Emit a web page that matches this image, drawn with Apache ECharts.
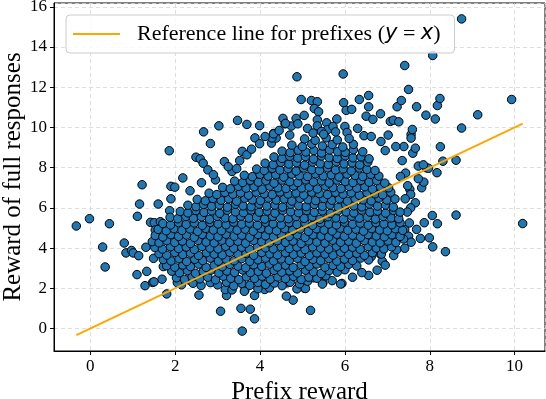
<!DOCTYPE html>
<html>
<head>
<meta charset="utf-8">
<script src="https://cdn.jsdelivr.net/npm/echarts@6/dist/echarts.min.js"></script>
<style>
  html, body { margin: 0; padding: 0; background: #fff; }
  #chart { width: 546px; height: 399px; }
</style>
</head>
<body>
<div id="chart"></div>
<script>
// ---- data ----
// x range of the prefix rewards, used for the y = x reference line
const refLineX = [-0.33, 10.19];

// scattered points around the edge of the cloud
const outerPoints = [
  [-0.33,5.10],[-0.02,5.46],[0.45,5.21],[0.29,4.05],[0.35,3.06],[0.80,4.25],[0.84,3.76],[0.97,3.88],
  [1.01,3.76],[1.14,3.62],[1.11,5.58],[1.16,6.19],[1.22,7.15],[1.10,2.68],[1.29,2.13],[1.31,4.04],
  [1.33,2.84],[1.47,2.29],[1.69,2.45],[1.80,1.72],[1.86,8.84],[1.90,7.07],[1.99,7.03],[1.90,6.45],
  [1.87,5.86],[1.60,6.19],[1.42,5.28],[1.51,5.26],[1.65,5.31],[1.53,4.90],[1.50,2.32],[1.49,3.49],
  [2.18,7.49],[2.49,8.52],[2.59,8.44],[2.66,8.22],[2.67,9.78],[2.83,9.20],[3.03,10.08],[2.77,7.89],
  [2.95,7.39],[3.16,8.30],[3.34,7.81],[3.47,10.35],[3.69,10.15],[3.99,10.09],[3.58,8.81],[3.69,8.64],
  [3.88,9.48],[3.99,9.19],[4.27,9.22],[4.32,9.70],[4.38,9.47],[4.54,10.45],[4.59,10.18],[4.74,10.07],
  [4.87,12.52],[4.85,10.45],[4.89,10.18],[4.97,11.39],[5.04,10.60],[5.21,11.34],[5.35,11.28],[5.28,10.94],
  [5.38,10.78],[5.35,10.38],[5.35,10.08],[5.57,10.23],[5.59,9.89],[5.81,10.42],[5.96,12.66],[5.97,11.23],
  [6.03,10.85],[6.16,10.90],[6.00,10.05],[6.34,11.39],[6.45,9.59],[6.56,11.59],[6.56,11.03],[6.50,10.56],
  [6.66,10.40],[6.84,10.68],[7.07,10.30],[7.14,10.36],[7.23,11.03],[7.27,10.28],[7.33,11.34],[7.41,13.08],
  [7.50,11.89],[7.56,9.65],[7.59,9.90],[7.69,11.03],[7.91,10.61],[8.07,13.58],[8.13,10.42],[8.18,11.09],
  [8.24,11.44],[8.75,15.40],[8.75,9.97],[8.25,9.04],[8.17,7.75],[8.31,8.32],[8.62,8.37],[7.92,7.99],
  [7.73,8.08],[9.13,10.63],[9.93,11.39],[10.19,5.22],[8.62,5.64],[8.06,5.62],[8.18,5.21],[7.87,5.26],
  [7.69,4.93],[7.78,4.48],[7.99,4.51],[8.07,4.06],[8.37,3.82],[7.41,4.92],[7.50,4.59],[7.56,4.29],
  [7.41,3.99],[7.66,6.25],[7.55,6.00],[7.47,5.79],[7.53,6.92],[7.55,6.67],[7.81,7.00],[7.86,7.28],
  [7.73,7.45],[7.60,8.72],[7.66,8.97],[7.39,9.05],[7.56,9.47],[7.43,7.73],[7.31,7.56],[7.97,7.97],
  [7.85,8.14],[7.22,5.34],[7.12,4.93],[7.15,3.63],[6.88,3.35],[6.76,2.90],[6.56,2.64],[6.62,3.57],
  [6.82,3.73],[5.93,2.24],[5.48,2.27],[5.26,2.52],[5.19,0.90],[5.05,2.00],[5.90,2.21],[4.87,1.97],
  [4.78,1.41],[4.62,1.61],[4.64,2.27],[4.11,1.94],[3.87,1.64],[3.87,0.48],[3.77,0.96],[3.55,1.00],
  [3.58,-0.13],[3.07,0.86],[3.21,1.64],[3.18,1.94],[3.64,1.89],[2.56,1.66],[2.15,2.17],[2.33,2.41],
  [4.28,9.48],[4.32,9.68],[4.60,10.20],[5.07,1.99],[5.47,2.21],
  [3.25,8.05],[3.52,8.35],[3.80,8.92],[4.12,9.55],[4.45,9.85],[4.70,9.62],[5.12,9.95],[5.45,9.80],
  [5.72,10.05],[6.05,9.75],[6.30,9.95],[6.62,9.55],[6.85,9.30],[7.02,9.62],[7.20,9.05],[6.95,8.85],
  [2.35,6.85],[2.62,7.25],[2.90,7.65],[3.45,7.95],[7.35,8.35],[7.48,7.10],[7.42,6.45],[7.52,5.25],
  [7.38,4.45],[7.22,3.92],[6.95,3.15],[6.40,2.78],[6.18,2.55],[5.70,2.38],[2.05,2.28],[1.72,3.08]
];

// the dense body of the cloud, row by row from the bottom
const corePoints = [
  [3.34,1.92],[3.63,1.85],[3.95,1.98],[4.22,2.02],
  [2.42,2.25],[2.61,2.14],[2.83,2.28],[3.00,2.17],[3.21,2.30],[3.38,2.12],[3.57,2.24],[3.76,2.15],[3.95,2.29],[4.13,2.19],[4.34,2.26],[4.52,2.13],[4.71,2.30],[4.93,2.22],[5.12,2.35],
  [2.03,2.52],[2.22,2.44],[2.40,2.58],[2.58,2.47],[2.77,2.55],[2.95,2.42],[3.13,2.60],[3.31,2.50],[3.50,2.43],[3.68,2.57],[3.87,2.49],[4.05,2.60],[4.24,2.45],[4.42,2.56],[4.60,2.48],[4.79,2.59],[4.97,2.44],[5.15,2.55],[5.34,2.50],[5.55,2.62],
  [1.92,2.85],[2.10,2.77],[2.29,2.88],[2.48,2.74],[2.66,2.83],[2.84,2.90],[3.03,2.76],[3.22,2.86],[3.40,2.79],[3.59,2.91],[3.77,2.78],[3.96,2.84],[4.15,2.75],[4.33,2.89],[4.51,2.80],[4.70,2.87],[4.88,2.76],[5.07,2.90],[5.26,2.82],[5.44,2.74],[5.63,2.88],[5.82,2.80],[6.00,2.92],
  [1.80,3.12],[1.99,3.05],[2.18,3.16],[2.36,3.08],[2.55,3.20],[2.73,3.04],[2.92,3.14],[3.11,3.07],[3.29,3.19],[3.48,3.10],[3.66,3.02],[3.85,3.17],[4.04,3.09],[4.22,3.20],[4.41,3.06],[4.60,3.15],[4.78,3.03],[4.97,3.18],[5.16,3.10],[5.34,3.21],[5.53,3.05],[5.72,3.14],[5.90,3.08],[6.09,3.19],[6.28,3.11],
  [1.72,3.43],[1.90,3.36],[2.09,3.47],[2.27,3.33],[2.46,3.44],[2.65,3.38],[2.83,3.50],[3.02,3.35],[3.20,3.45],[3.39,3.37],[3.57,3.48],[3.76,3.34],[3.95,3.42],[4.13,3.50],[4.32,3.36],[4.50,3.46],[4.69,3.39],[4.88,3.49],[5.06,3.33],[5.25,3.44],[5.43,3.37],[5.62,3.48],[5.81,3.35],[5.99,3.45],[6.18,3.38],[6.37,3.50],[6.56,3.41],
  [1.62,3.72],[1.80,3.65],[1.99,3.78],[2.18,3.68],[2.36,3.75],[2.55,3.63],[2.74,3.77],[2.92,3.70],[3.11,3.66],[3.29,3.79],[3.48,3.69],[3.67,3.74],[3.85,3.64],[4.04,3.78],[4.23,3.71],[4.41,3.66],[4.60,3.77],[4.79,3.68],[4.97,3.75],[5.16,3.63],[5.34,3.76],[5.53,3.70],[5.72,3.65],[5.90,3.79],[6.09,3.69],[6.28,3.74],[6.46,3.64],[6.65,3.77],[6.86,3.70],
  [1.52,4.03],[1.70,3.95],[1.89,4.07],[2.08,3.98],[2.26,4.05],[2.45,3.93],[2.63,4.08],[2.82,4.00],[3.01,3.96],[3.19,4.09],[3.38,3.99],[3.57,4.04],[3.75,3.94],[3.94,4.08],[4.13,4.01],[4.31,3.96],[4.50,4.07],[4.69,3.98],[4.87,4.05],[5.06,3.93],[5.24,4.06],[5.43,4.00],[5.62,3.95],[5.80,4.09],[5.99,3.99],[6.18,4.04],[6.36,3.94],[6.55,4.07],[6.74,4.00],[6.92,3.96],[7.10,4.06],
  [1.46,4.32],[1.62,4.26],[1.80,4.37],[1.99,4.28],[2.17,4.35],[2.36,4.23],[2.54,4.38],[2.73,4.30],[2.92,4.26],[3.10,4.39],[3.29,4.29],[3.48,4.34],[3.66,4.24],[3.85,4.38],[4.04,4.31],[4.22,4.26],[4.41,4.37],[4.60,4.28],[4.78,4.35],[4.97,4.23],[5.15,4.36],[5.34,4.30],[5.53,4.25],[5.71,4.39],[5.90,4.29],[6.09,4.34],[6.27,4.24],[6.46,4.37],[6.65,4.30],[6.83,4.26],[7.02,4.36],[7.20,4.28],
  [1.53,4.62],[1.71,4.55],[1.90,4.67],[2.08,4.58],[2.27,4.65],[2.45,4.53],[2.64,4.68],[2.83,4.60],[3.01,4.56],[3.20,4.69],[3.39,4.59],[3.57,4.64],[3.76,4.54],[3.95,4.68],[4.13,4.61],[4.32,4.56],[4.50,4.67],[4.69,4.58],[4.88,4.65],[5.06,4.53],[5.25,4.66],[5.44,4.60],[5.62,4.55],[5.81,4.69],[5.99,4.59],[6.18,4.64],[6.37,4.54],[6.55,4.67],[6.74,4.60],[6.93,4.56],[7.11,4.66],[7.30,4.58],
  [1.60,4.93],[1.79,4.86],[1.97,4.97],[2.16,4.88],[2.35,4.95],[2.53,4.83],[2.72,4.98],[2.90,4.90],[3.09,4.86],[3.28,4.99],[3.46,4.89],[3.65,4.94],[3.84,4.84],[4.02,4.98],[4.21,4.91],[4.39,4.86],[4.58,4.97],[4.77,4.88],[4.95,4.95],[5.14,4.83],[5.33,4.96],[5.51,4.90],[5.70,4.85],[5.89,4.99],[6.07,4.89],[6.26,4.94],[6.44,4.84],[6.63,4.97],[6.82,4.90],[7.00,4.86],[7.19,4.96],[7.36,4.88],
  [1.71,5.22],[1.89,5.15],[2.08,5.27],[2.26,5.18],[2.45,5.25],[2.64,5.13],[2.82,5.28],[3.01,5.20],[3.20,5.16],[3.38,5.29],[3.57,5.19],[3.75,5.24],[3.94,5.14],[4.13,5.28],[4.31,5.21],[4.50,5.16],[4.69,5.27],[4.87,5.18],[5.06,5.25],[5.24,5.13],[5.43,5.26],[5.62,5.20],[5.80,5.15],[5.99,5.29],[6.18,5.19],[6.36,5.24],[6.55,5.14],[6.73,5.27],[6.92,5.20],[7.11,5.16],[7.30,5.26],
  [1.88,5.53],[2.06,5.46],[2.25,5.57],[2.43,5.48],[2.62,5.55],[2.81,5.43],[2.99,5.58],[3.18,5.50],[3.36,5.46],[3.55,5.59],[3.74,5.49],[3.92,5.54],[4.11,5.44],[4.30,5.58],[4.48,5.51],[4.67,5.46],[4.85,5.57],[5.04,5.48],[5.23,5.55],[5.41,5.43],[5.60,5.56],[5.79,5.50],[5.97,5.45],[6.16,5.59],[6.34,5.49],[6.53,5.54],[6.72,5.44],[6.90,5.57],[7.09,5.50],[7.27,5.46],
  [2.12,5.82],[2.30,5.75],[2.49,5.87],[2.68,5.78],[2.86,5.85],[3.05,5.73],[3.23,5.88],[3.42,5.80],[3.61,5.76],[3.79,5.89],[3.98,5.79],[4.17,5.84],[4.35,5.74],[4.54,5.88],[4.72,5.81],[4.91,5.76],[5.10,5.87],[5.28,5.78],[5.47,5.85],[5.66,5.73],[5.84,5.86],[6.03,5.80],[6.21,5.75],[6.40,5.89],[6.59,5.79],[6.77,5.84],[6.96,5.74],[7.15,5.87],[7.30,5.79],
  [2.30,6.13],[2.49,6.06],[2.67,6.17],[2.86,6.08],[3.04,6.15],[3.23,6.03],[3.42,6.18],[3.60,6.10],[3.79,6.06],[3.98,6.19],[4.16,6.09],[4.35,6.14],[4.53,6.04],[4.72,6.18],[4.91,6.11],[5.09,6.06],[5.28,6.17],[5.47,6.08],[5.65,6.15],[5.84,6.03],[6.02,6.16],[6.21,6.10],[6.40,6.05],[6.58,6.19],[6.77,6.09],[6.96,6.14],[7.14,6.04],
  [2.52,6.42],[2.71,6.35],[2.89,6.47],[3.08,6.38],[3.26,6.45],[3.45,6.33],[3.64,6.48],[3.82,6.40],[4.01,6.36],[4.20,6.49],[4.38,6.39],[4.57,6.44],[4.75,6.34],[4.94,6.48],[5.13,6.41],[5.31,6.36],[5.50,6.47],[5.69,6.38],[5.87,6.45],[6.06,6.33],[6.24,6.46],[6.43,6.40],[6.62,6.35],[6.80,6.49],[6.99,6.39],[7.18,6.44],
  [2.80,6.73],[2.98,6.66],[3.17,6.77],[3.36,6.68],[3.54,6.75],[3.73,6.63],[3.91,6.78],[4.10,6.70],[4.29,6.66],[4.47,6.79],[4.66,6.69],[4.85,6.74],[5.03,6.64],[5.22,6.78],[5.40,6.71],[5.59,6.66],[5.78,6.77],[5.96,6.68],[6.15,6.75],[6.34,6.63],[6.52,6.76],[6.71,6.70],[6.89,6.65],[7.08,6.78],
  [3.12,7.02],[3.30,6.95],[3.49,7.07],[3.67,6.98],[3.86,7.05],[4.05,6.93],[4.23,7.08],[4.42,7.00],[4.61,6.96],[4.79,7.09],[4.98,6.99],[5.16,7.04],[5.35,6.94],[5.54,7.08],[5.72,7.01],[5.91,6.96],[6.10,7.07],[6.28,6.98],[6.47,7.05],[6.65,6.93],[6.84,7.06],[7.03,7.00],
  [3.40,7.33],[3.59,7.26],[3.77,7.37],[3.96,7.28],[4.14,7.35],[4.33,7.23],[4.52,7.38],[4.70,7.30],[4.89,7.26],[5.08,7.39],[5.26,7.29],[5.45,7.34],[5.63,7.24],[5.82,7.38],[6.01,7.31],[6.19,7.26],[6.38,7.37],[6.57,7.28],[6.75,7.35],[6.94,7.23],
  [3.63,7.62],[3.82,7.55],[4.00,7.67],[4.19,7.58],[4.37,7.65],[4.56,7.53],[4.75,7.68],[4.93,7.60],[5.12,7.56],[5.31,7.69],[5.49,7.59],[5.68,7.64],[5.86,7.54],[6.05,7.68],[6.24,7.61],[6.42,7.56],[6.61,7.67],[6.80,7.58],
  [3.92,7.93],[4.10,7.86],[4.29,7.97],[4.47,7.88],[4.66,7.95],[4.85,7.83],[5.03,7.98],[5.22,7.90],[5.40,7.86],[5.59,7.99],[5.78,7.89],[5.96,7.94],[6.15,7.84],[6.34,7.98],[6.52,7.91],[6.71,7.86],
  [4.12,8.22],[4.31,8.15],[4.49,8.27],[4.68,8.18],[4.86,8.25],[5.05,8.13],[5.24,8.28],[5.42,8.20],[5.61,8.16],[5.80,8.29],[5.98,8.19],[6.17,8.24],[6.35,8.14],[6.54,8.28],
  [4.33,8.53],[4.52,8.46],[4.70,8.57],[4.89,8.48],[5.07,8.55],[5.26,8.43],[5.45,8.58],[5.63,8.50],[5.82,8.46],[6.01,8.59],[6.19,8.49],[6.38,8.54],[6.57,8.44],
  [4.52,8.82],[4.71,8.75],[4.90,8.87],[5.08,8.78],[5.27,8.85],[5.45,8.73],[5.64,8.88],[5.83,8.80],[6.01,8.76],[6.20,8.89],[6.42,8.79],
  [4.75,9.12],[5.00,9.05],[5.22,9.18],[5.47,9.08],[5.70,9.15],[5.95,9.03],[6.20,9.16],
  [5.05,9.43],[5.30,9.36],[5.56,9.48],[5.82,9.38],[6.10,9.45],
  [5.25,9.72],[5.50,9.66],[5.78,9.78]
];

const legendLabel = 'Reference line for prefixes';

// ---- chart ----
const serif = '"Liberation Serif", "Times New Roman", serif';
const chart = echarts.init(document.getElementById('chart'), null, { renderer: 'canvas' });

const gridLine = { show: true, lineStyle: { color: '#d6d6d6', width: 0.8, type: [4, 3] } };
const axisCommon = {
  type: 'value',
  axisLine: { show: true, onZero: false, lineStyle: { color: '#000', width: 1 } },
  axisTick: { show: true, inside: false, length: 4, lineStyle: { color: '#000', width: 1 } },
  splitLine: gridLine,
  nameLocation: 'middle',
  nameTextStyle: { fontFamily: serif, fontSize: 25, color: '#000' }
};
const tickLabel = { fontFamily: serif, fontSize: 17, color: '#000', margin: 7, showMinLabel: false, showMaxLabel: false };

chart.setOption({
  animation: false,
  backgroundColor: '#fff',
  grid: {
    left: 54, right: 1, top: 3, bottom: 48,
    containLabel: false, outerBoundsMode: 'none',
    show: true, borderColor: '#000', borderWidth: 1
  },
  xAxis: Object.assign({}, axisCommon, {
    min: -0.856, max: 10.716, splitNumber: 6,
    name: 'Prefix reward', nameGap: 25,
    axisLabel: tickLabel
  }),
  yAxis: Object.assign({}, axisCommon, {
    min: -1.12, max: 16.19, splitNumber: 8,
    name: 'Reward of full responses', nameGap: 28, nameMoveOverlap: false,
    axisLabel: tickLabel
  }),
  legend: {
    left: 66, top: 15,
    padding: [8, 14, 8, 7],
    itemWidth: 47, itemHeight: 2,
    icon: 'rect',
    backgroundColor: 'rgba(255,255,255,0.8)',
    borderColor: '#cccccc', borderWidth: 1, borderRadius: 4,
    data: [legendLabel],
    formatter: name => '{t|' + name + ' (}{m|y}{t| = }{m|x}{t|)}',
    textStyle: {
      padding: [0, 0, 0, 12],
      rich: {
        t: { fontFamily: serif, fontSize: 22, color: '#000' },
        m: { fontFamily: '"DejaVu Sans"', fontStyle: 'italic', fontSize: 21, color: '#000' }
      }
    }
  },
  series: [
    {
      type: 'scatter',
      name: 'points',
      symbolSize: 8.5,
      itemStyle: { color: '#1f77b4', borderColor: '#000', borderWidth: 1, opacity: 1 },
      data: outerPoints.concat(corePoints),
      z: 2
    },
    {
      type: 'line',
      name: legendLabel,
      symbol: 'none',
      data: refLineX.map(v => [v, v]),
      lineStyle: { color: '#ffa500', width: 1.8 },
      itemStyle: { color: '#ffa500' },
      z: 3
    }
  ]
});
</script>
</body>
</html>
